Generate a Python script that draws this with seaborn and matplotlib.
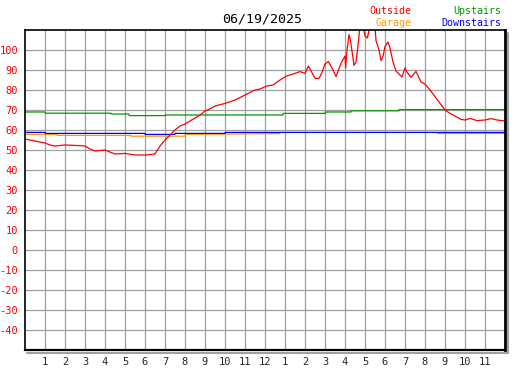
import numpy as np
import pandas as pd
import matplotlib
matplotlib.use('Agg')
import matplotlib.pyplot as plt
import seaborn as sns
from matplotlib.lines import Line2D

# Temperatures for 06/19/2025, hours since midnight
outside_hours = [0, 0.5, 1, 1.25, 1.5, 2, 2.5, 3, 3.25, 3.5, 4, 4.25, 4.5, 5, 5.5, 6,
                 6.5, 6.75, 7, 7.25, 7.5, 7.75, 8, 8.5, 8.75, 9, 9.25, 9.5, 10, 10.5,
                 11, 11.5, 11.75, 12.08, 12.4, 12.75, 13.08, 13.4, 13.75, 14, 14.17,
                 14.5, 14.7, 14.83, 15, 15.17, 15.4, 15.55, 15.8, 16, 16.03, 16.1,
                 16.2, 16.27, 16.4, 16.45, 16.55, 16.6, 16.67, 16.75, 16.9, 17.0,
                 17.12, 17.25, 17.4, 17.5, 17.55, 17.7, 17.8, 17.9, 18, 18.15, 18.25,
                 18.4, 18.55, 18.85, 19, 19.1, 19.3, 19.55, 19.8, 20, 20.25, 20.5,
                 20.75, 21, 21.25, 21.5, 21.8, 22, 22.25, 22.6, 23, 23.3, 23.6, 24]
outside_temp = [55.5, 54.5, 53.5, 52.5, 52, 52.5, 52.3, 52, 50.5, 49.5, 50, 49, 48,
                48.3, 47.5, 47.5, 48, 52, 55, 57.5, 60, 62, 63, 66, 67.5, 69.5, 70.5,
                72, 73.3, 75, 77.5, 80, 80.5, 82, 82.5, 85, 87, 88, 89.2, 88.3, 92,
                85.8, 85.8, 88.3, 93, 94.2, 90, 86.7, 93.3, 97, 91, 100, 107.7, 105,
                96, 92.3, 94, 98, 104, 112, 112, 107, 106, 112, 112, 112, 104.7, 100,
                94.7, 96.7, 101.7, 104, 101, 94, 89.5, 86.5, 91, 89, 86.3, 89.3, 84,
                83, 80, 76.7, 73.3, 70, 68.3, 67, 65.3, 65, 65.8, 64.7, 65, 65.7, 65,
                64.5]

upstairs_hours = [0, 1, 1.01, 4.3, 4.31, 5.2, 5.21, 7.0, 7.01, 12.9, 12.91, 15.0,
                  15.01, 16.3, 16.31, 18.7, 18.71, 24]
upstairs_temp = [69, 69, 68.4, 68.4, 68, 68, 67.2, 67.2, 67.5, 67.5, 68.3, 68.3,
                 69, 69, 69.6, 69.6, 70.2, 70.2]

downstairs_hours = [0, 1, 1.01, 6.0, 6.01, 7.5, 7.51, 10.0, 10.01, 24]
downstairs_temp = [58.8, 58.8, 58.3, 58.3, 57.8, 57.8, 58.3, 58.3, 58.8, 58.8]

garage_am_hours = [0, 1.6, 1.61, 5.3, 5.31, 8.0, 8.01, 12.75]
garage_am_temp = [57.8, 57.8, 57.3, 57.3, 56.9, 56.9, 57.8, 58.2]
garage_pm_hours = [20.6, 24]
garage_pm_temp = [58.3, 58.3]

hour_labels = ['1', '2', '3', '4', '5', '6', '7', '8', '9', '10', '11', '12',
               '1', '2', '3', '4', '5', '6', '7', '8', '9', '10', '11']
y_ticks = list(range(-40, 101, 10))

sns.set_style('white')
plt.rcParams['font.family'] = ['DejaVu Sans Mono', 'DejaVu Sans']
plt.rcParams['axes.unicode_minus'] = False

fig = plt.figure(figsize=(5.27, 3.70), dpi=100)
W, H = 527, 370
ax = fig.add_axes([25 / W, (H - 350) / H, 480 / W, 320 / H])

# grid
for h in range(1, 24):
    ax.axvline(h, color='#a0a0a0', lw=0.9, zorder=0)
for v in y_ticks:
    ax.axhline(v, color='#a0a0a0', lw=0.9, zorder=0)

line_w = 0.9
sns.lineplot(x=garage_am_hours, y=garage_am_temp, ax=ax, color='#ff9900', lw=line_w,
             estimator=None, sort=False)
sns.lineplot(x=garage_pm_hours, y=garage_pm_temp, ax=ax, color='#ff9900', lw=line_w,
             estimator=None, sort=False)
sns.lineplot(x=downstairs_hours, y=downstairs_temp, ax=ax, color='#0000ff', lw=line_w,
             estimator=None, sort=False)
sns.lineplot(x=upstairs_hours, y=upstairs_temp, ax=ax, color='#009900', lw=line_w,
             estimator=None, sort=False)
sns.lineplot(x=outside_hours, y=outside_temp, ax=ax, color='#ff0000', lw=line_w,
             estimator=None, sort=False)

ax.set_xlim(0, 24)
ax.set_ylim(-50, 110)
ax.set_xticks(range(1, 24))
ax.set_xticklabels(hour_labels)
ax.set_yticks(y_ticks)
ax.tick_params(axis='both', direction='in', length=4, width=1.2, color='black',
               labelsize=7.5, pad=5)
ax.tick_params(axis='y', labelcolor='#ff0000')
ax.set_xlabel('')
ax.set_ylabel('')

for side in ['left', 'bottom', 'top']:
    ax.spines[side].set_color('black')
    ax.spines[side].set_linewidth(1.2)
ax.spines['right'].set_color('black')
ax.spines['right'].set_linewidth(2.0)
ax.spines['bottom'].set_linewidth(1.6)

# drop shadow under the bottom and right edges
fig.add_artist(Line2D([27 / W, 508 / W], [(H - 352.5) / H] * 2, color='#a0a0a0',
                      lw=1.5, transform=fig.transFigure))
fig.add_artist(Line2D([508 / W] * 2, [(H - 352.5) / H, (H - 33) / H], color='#a0a0a0',
                      lw=1.5, transform=fig.transFigure))

fig.text(262 / W, (H - 19) / H, '06/19/2025', ha='center', va='center',
         fontsize=9.5, color='black')
fig.text(411 / W, (H - 11) / H, 'Outside', ha='right', va='center', fontsize=7.2,
         color='#ff0000')
fig.text(411 / W, (H - 23) / H, 'Garage', ha='right', va='center', fontsize=7.2,
         color='#ff9900')
fig.text(501 / W, (H - 11) / H, 'Upstairs', ha='right', va='center', fontsize=7.2,
         color='#009900')
fig.text(501 / W, (H - 23) / H, 'Downstairs', ha='right', va='center', fontsize=7.2,
         color='#0000ff')

fig.savefig('out.png', dpi=100)
